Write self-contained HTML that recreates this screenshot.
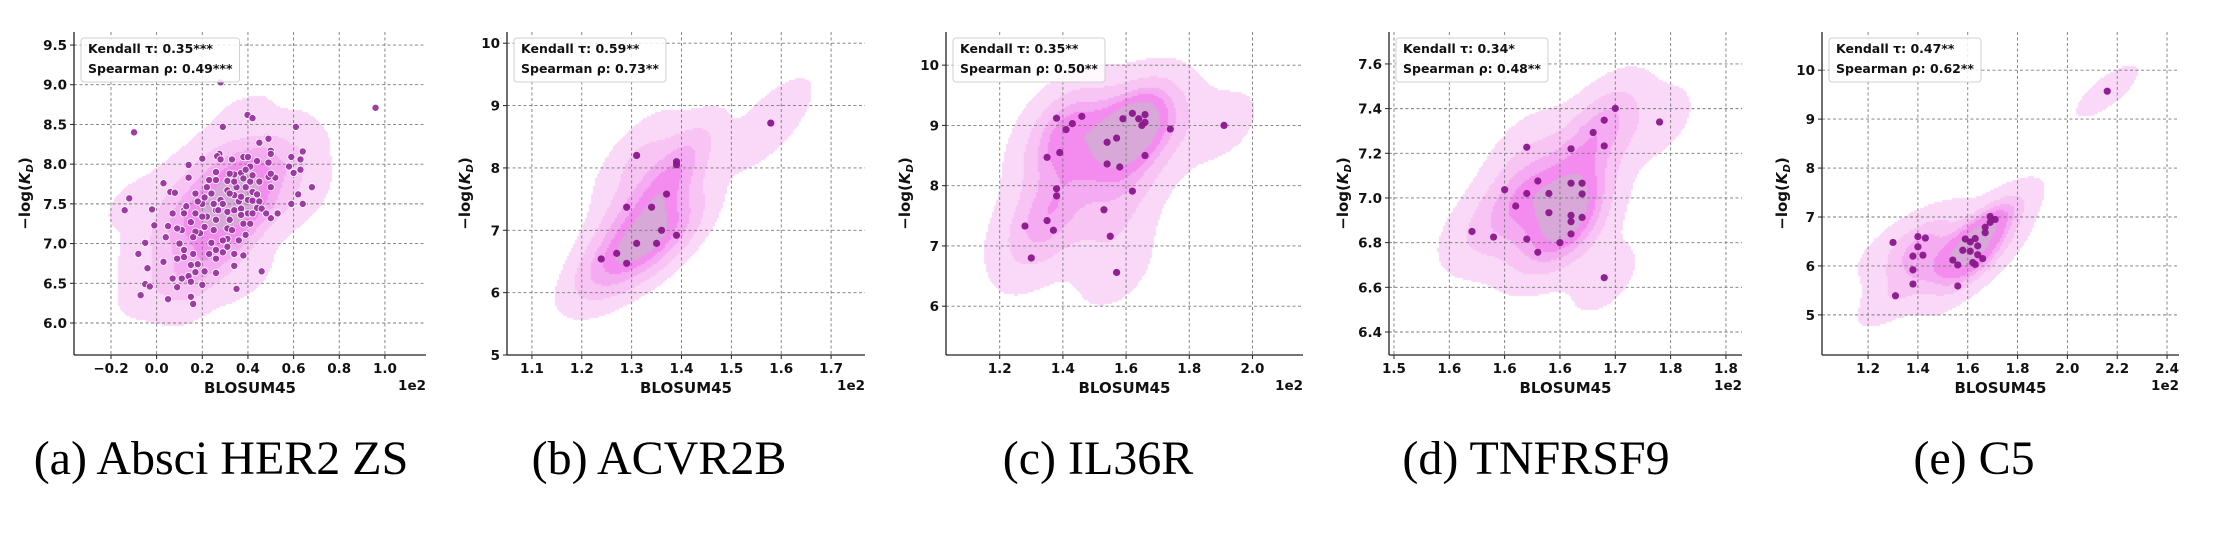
<!DOCTYPE html>
<html><head><meta charset="utf-8"><style>
html,body{margin:0;padding:0;background:#fff;}
#wrap{position:relative;width:2218px;height:538px;overflow:hidden;}
#kde{position:absolute;left:0;top:0;}
#chart{position:absolute;left:0;top:0;}
</style></head><body>
<div id="wrap">
<canvas id="kde" width="2218" height="538"></canvas>
<svg id="chart" width="2218" height="538" xmlns="http://www.w3.org/2000/svg"></svg>
</div>
<script>
// ---- data (BLOSUM45 in units of 1e2, -log(KD)) ----
const aX=[0.959,-0.099,0.28,0.398,0.42,0.29,0.61,0.49,0.45,0.64,0.59,0.63,0.50,0.50,0.14,0.20,0.275,0.265,0.28,0.33,0.38,0.40,0.44,0.41,0.49,0.58,0.60,0.63,0.14,0.03,0.06,0.08,-0.12,-0.14,-0.02,-0.01,0.68,0.62,0.59,0.64,0.53,0.50,0.50,0.52,0.49,0.50,0.23,0.26,0.31,0.34,0.37,0.39,0.41,0.32,0.26,0.31,0.35,0.39,0.34,0.36,0.28,0.24,0.20,0.17,0.18,0.26,0.31,0.34,0.37,0.40,0.42,0.45,0.44,0.46,0.48,0.40,0.42,0.37,0.32,0.26,0.22,0.20,0.17,0.12,0.12,0.15,0.21,0.25,0.31,0.33,0.38,0.41,0.39,0.36,0.31,0.29,0.24,0.26,0.29,0.34,0.26,0.31,0.19,0.17,0.16,0.11,0.09,0.05,0.04,0.07,0.10,0.12,0.16,0.12,0.09,0.03,0.18,0.15,0.17,0.21,0.26,0.34,0.38,0.46,0.07,0.11,0.14,0.15,0.20,0.09,0.35,-0.05,-0.03,-0.04,-0.08,-0.05,-0.07,0.05,0.15,0.16,0.23,0.25,0.21,0.22,0.29,0.42,0.44,0.45,0.37,0.27,0.32,0.34,0.38,0.42,0.13];
const aY=[8.71,8.40,9.03,8.62,8.58,8.47,8.47,8.32,8.27,8.16,8.09,8.06,8.17,8.13,7.99,8.07,8.13,8.10,8.06,8.06,8.09,8.09,8.04,7.97,8.02,7.97,7.89,7.93,7.83,7.76,7.65,7.64,7.57,7.42,7.43,7.23,7.71,7.62,7.50,7.50,7.38,7.32,7.71,7.83,7.84,7.88,7.80,7.80,7.79,7.87,7.89,7.93,7.78,7.88,7.90,7.67,7.71,7.71,7.61,7.53,7.55,7.63,7.50,7.63,7.53,7.42,7.40,7.42,7.44,7.55,7.54,7.53,7.45,7.44,7.38,7.38,7.38,7.36,7.30,7.30,7.34,7.34,7.38,7.42,7.38,7.27,7.21,7.17,7.19,7.17,7.25,7.25,7.11,7.04,7.06,7.04,7.01,6.92,6.89,6.87,6.81,6.96,7.13,7.15,7.08,7.17,7.19,7.22,7.08,7.38,7.00,6.92,6.87,6.83,6.81,6.77,6.74,6.73,6.64,6.65,6.63,6.72,6.85,6.65,6.56,6.56,6.59,6.52,6.48,6.45,6.43,6.49,6.46,6.69,6.87,7.01,6.35,6.30,6.33,6.24,6.87,7.50,7.58,7.71,7.50,7.65,7.62,7.78,7.59,7.42,7.63,7.78,7.82,7.86,7.47];
const bX=[1.239,1.27,1.29,1.29,1.31,1.31,1.34,1.35,1.36,1.37,1.39,1.39,1.39,1.579];
const bY=[6.54,6.63,6.47,7.37,8.20,6.79,7.37,6.79,7.00,7.58,8.10,8.05,6.92,8.72];
const cX=[1.28,1.30,1.35,1.35,1.37,1.38,1.38,1.38,1.39,1.41,1.43,1.46,1.53,1.54,1.54,1.55,1.57,1.57,1.58,1.59,1.62,1.62,1.64,1.65,1.66,1.66,1.66,1.74,1.91];
const cY=[7.33,6.80,8.47,7.42,7.26,9.12,7.95,7.83,8.55,8.93,9.03,9.15,7.60,8.72,8.36,7.16,8.79,6.56,8.31,9.11,9.20,7.91,9.11,9.00,9.18,9.05,8.50,8.94,9.00];
const dX=[1.5705,1.590,1.600,1.610,1.620,1.620,1.620,1.630,1.630,1.640,1.640,1.650,1.660,1.660,1.660,1.660,1.660,1.670,1.670,1.670,1.680,1.690,1.690,1.690,1.700,1.740];
const dY=[6.85,6.825,7.037,6.964,7.227,7.02,6.816,7.076,6.757,7.02,6.934,6.80,7.22,7.066,6.922,6.894,6.839,7.066,7.018,6.913,7.293,7.348,7.233,6.643,7.401,7.34];
const eX=[1.30,1.31,1.38,1.38,1.38,1.40,1.40,1.42,1.43,1.54,1.56,1.56,1.58,1.59,1.61,1.61,1.62,1.63,1.63,1.64,1.64,1.66,1.67,1.67,1.69,1.69,1.71,2.16];
const eY=[6.48,5.39,6.20,5.92,5.63,6.60,6.39,6.22,6.57,6.12,6.02,5.59,6.32,6.55,6.49,6.30,6.07,6.56,6.03,6.41,6.23,6.15,6.79,6.68,7.01,6.89,6.95,9.57];
// ---- ticks ----
const aXTicks=[-0.2,0.0,0.2,0.4,0.6,0.8,1.0];
const aXLabels=["\u22120.2","0.0","0.2","0.4","0.6","0.8","1.0"];
const aYTicks=[6.0,6.5,7.0,7.5,8.0,8.5,9.0,9.5];
const aYLabels=["6.0","6.5","7.0","7.5","8.0","8.5","9.0","9.5"];
const bXTicks=[1.1,1.2,1.3,1.4,1.5,1.6,1.7];
const bXLabels=["1.1","1.2","1.3","1.4","1.5","1.6","1.7"];
const bYTicks=[5,6,7,8,9,10];
const bYLabels=["5","6","7","8","9","10"];
const cXTicks=[1.2,1.4,1.6,1.8,2.0];
const cXLabels=["1.2","1.4","1.6","1.8","2.0"];
const cYTicks=[6,7,8,9,10];
const cYLabels=["6","7","8","9","10"];
const dXTicks=[1.50,1.55,1.60,1.65,1.70,1.75,1.80];
const dXLabels=["1.5","1.6","1.6","1.6","1.7","1.8","1.8"];
const dYTicks=[6.4,6.6,6.8,7.0,7.2,7.4,7.6];
const dYLabels=["6.4","6.6","6.8","7.0","7.2","7.4","7.6"];
const eXTicks=[1.2,1.4,1.6,1.8,2.0,2.2,2.4];
const eXLabels=["1.2","1.4","1.6","1.8","2.0","2.2","2.4"];
const eYTicks=[5,6,7,8,9,10];
const eYLabels=["5","6","7","8","9","10"];
const legendText={a:["Kendall \u03c4: 0.35***","Spearman \u03c1: 0.49***"],b:["Kendall \u03c4: 0.59**","Spearman \u03c1: 0.73**"],c:["Kendall \u03c4: 0.35**","Spearman \u03c1: 0.50**"],d:["Kendall \u03c4: 0.34*","Spearman \u03c1: 0.48**"],e:["Kendall \u03c4: 0.47**","Spearman \u03c1: 0.62**"]};
const captions={a:"(a) Absci HER2 ZS",b:"(b) ACVR2B",c:"(c) IL36R",d:"(d) TNFRSF9",e:"(e) C5"};

// ---- layout (pixels) ----
const panels=[
 {id:'a',xs:aX,ys:aY,xt:aXTicks,xl:aXLabels,yt:aYTicks,yl:aYLabels,L:74,R:426,T:32,B:355,xmin:-0.362,xmax:1.18,ymin:5.597,ymax:9.664,ylx:25,cap:221,pf:'#9a33a0',ps:'#ffffff',pw:0.8},
 {id:'b',xs:bX,ys:bY,xt:bXTicks,xl:bXLabels,yt:bYTicks,yl:bYLabels,L:507,R:865,T:32,B:355,xmin:1.05,xmax:1.768,ymin:5,ymax:10.18,ylx:465,cap:659,pf:'#8a168c',ps:'none',pw:0},
 {id:'c',xs:cX,ys:cY,xt:cXTicks,xl:cXLabels,yt:cYTicks,yl:cYLabels,L:946,R:1303,T:32,B:355,xmin:1.03,xmax:2.16,ymin:5.19,ymax:10.55,ylx:905,cap:1098,pf:'#8a168c',ps:'none',pw:0},
 {id:'d',xs:dX,ys:dY,xt:dXTicks,xl:dXLabels,yt:dYTicks,yl:dYLabels,L:1389,R:1742,T:32,B:355,xmin:1.4955,xmax:1.8145,ymin:6.297,ymax:7.743,ylx:1343,cap:1536,pf:'#8a168c',ps:'none',pw:0},
 {id:'e',xs:eX,ys:eY,xt:eXTicks,xl:eXLabels,yt:eYTicks,yl:eYLabels,L:1822,R:2179,T:32,B:355,xmin:1.015,xmax:2.448,ymin:4.18,ymax:10.78,ylx:1782,cap:1974,pf:'#8a168c',ps:'none',pw:0}
];
const bandColors=['#fad8f7','#f7c4f4','#f5abf1','#f38cee','#d7a8d8'];
const isoProps=[0.05,0.24,0.43,0.62,0.81];

const NS='http://www.w3.org/2000/svg';
const svg=document.getElementById('chart');
const ctx=document.getElementById('kde').getContext('2d');
function mk(tag,attrs,parent){const e=document.createElementNS(NS,tag);for(const k in attrs)e.setAttribute(k,attrs[k]);(parent||svg).appendChild(e);return e;}

function kdeFn(xs,ys){
  const n=xs.length;let mx=0,my=0;for(let i=0;i<n;i++){mx+=xs[i];my+=ys[i];}mx/=n;my/=n;
  let sxx=0,syy=0,sxy=0;for(let i=0;i<n;i++){const dx=xs[i]-mx,dy=ys[i]-my;sxx+=dx*dx;syy+=dy*dy;sxy+=dx*dy;}
  sxx/=(n-1);syy/=(n-1);sxy/=(n-1);
  const f2=Math.pow(n,-1/3);const a=sxx*f2,d=syy*f2,b=sxy*f2;const det=a*d-b*b;
  const ia=d/det,id=a/det,ib=-b/det;
  const fn=(x,y)=>{let s=0;for(let i=0;i<n;i++){const dx=x-xs[i],dy=y-ys[i];s+=Math.exp(-0.5*(ia*dx*dx+2*ib*dx*dy+id*dy*dy));}return s;};
  return {fn,sx:Math.sqrt(a),sy:Math.sqrt(d)};
}

panels.forEach(p=>{
  const sx=v=>p.L+(v-p.xmin)/(p.xmax-p.xmin)*(p.R-p.L);
  const sy=v=>p.B-(v-p.ymin)/(p.ymax-p.ymin)*(p.B-p.T);
  const g=mk('g',{});
  
  
  const k=kdeFn(p.xs,p.ys);
  let x0=Math.min(...p.xs)-3*k.sx,x1=Math.max(...p.xs)+3*k.sx,y0=Math.min(...p.ys)-3*k.sy,y1=Math.max(...p.ys)+3*k.sy;
  const N=140,vals=[];
  for(let i=0;i<N;i++)for(let j=0;j<N;j++)vals.push(k.fn(x0+(x1-x0)*i/(N-1),y0+(y1-y0)*j/(N-1)));
  vals.sort((u,v)=>u-v);const tot=vals.reduce((s,v)=>s+v,0);
  const levels=isoProps.map(q=>{let c=0;for(let i=0;i<vals.length;i++){c+=vals[i];if(c/tot>=q)return vals[i];}return vals[vals.length-1];});
  const step=2;
  for(let px=p.L;px<p.R;px+=step){for(let py=p.T;py<p.B;py+=step){
    const dx=p.xmin+(px+step/2-p.L)/(p.R-p.L)*(p.xmax-p.xmin);
    const dy=p.ymin+(p.B-(py+step/2))/(p.B-p.T)*(p.ymax-p.ymin);
    const v=k.fn(dx,dy);let band=-1;for(let l=0;l<levels.length;l++)if(v>=levels[l])band=l;
    if(band>=0){ctx.fillStyle=bandColors[band];ctx.fillRect(px,py,step,step);}
  }}
  p.xt.forEach((t,i)=>{
    const x=sx(t);
    const gl=mk('line',{x1:x,x2:x,y1:p.T,y2:p.B,stroke:'#7a7a7a','stroke-width':0.9,'stroke-dasharray':'3,2.5'},g);
    
    
    const tk=mk('line',{x1:x,x2:x,y1:p.B,y2:p.B+4,stroke:'#222','stroke-width':1},g);
    
    
    const tl=mk('text',{x:x,y:373,'text-anchor':'middle','font-family':'DejaVu Sans, Liberation Sans, sans-serif','font-weight':'bold','font-size':13.5,fill:'#111'},g);
    tl.textContent=p.xl[i];
    
    
  });
  p.yt.forEach((t,i)=>{
    const y=sy(t);
    const gl=mk('line',{x1:p.L,x2:p.R,y1:y,y2:y,stroke:'#7a7a7a','stroke-width':0.9,'stroke-dasharray':'3,2.5'},g);
    
    
    const tk=mk('line',{x1:p.L-4,x2:p.L,y1:y,y2:y,stroke:'#222','stroke-width':1},g);
    
    
    const tl=mk('text',{x:p.L-7,y:y+5,'text-anchor':'end','font-family':'DejaVu Sans, Liberation Sans, sans-serif','font-weight':'bold','font-size':13.5,fill:'#111'},g);
    tl.textContent=p.yl[i];
    
    
  });
  p.xs.forEach((xv,i)=>{
    const c=mk('circle',{cx:sx(xv),cy:sy(p.ys[i]),r:3.6,fill:p.pf,'fill-opacity':0.95,stroke:p.ps,'stroke-width':p.pw},g);
    
    
  });
  const sl=mk('line',{x1:p.L,x2:p.L,y1:p.T,y2:p.B,stroke:'#222','stroke-width':1.3},g);
  
  
  const sb=mk('line',{x1:p.L,x2:p.R,y1:p.B,y2:p.B,stroke:'#222','stroke-width':1.3},g);
  
  
  const xt=mk('text',{x:(p.L+p.R)/2,y:393,'text-anchor':'middle','font-family':'DejaVu Sans, Liberation Sans, sans-serif','font-weight':'bold','font-size':15,fill:'#111'},g);
  xt.textContent='BLOSUM45';
  
  
  const off=mk('text',{x:p.R,y:390,'text-anchor':'end','font-family':'DejaVu Sans, Liberation Sans, sans-serif','font-weight':'bold','font-size':13.5,fill:'#111'},g);
  off.textContent='1e2';
  
  
  const yt=mk('text',{x:0,y:0,'text-anchor':'middle','font-family':'DejaVu Sans, Liberation Sans, sans-serif','font-weight':'bold','font-size':15,fill:'#111',transform:'translate('+(p.ylx+5)+','+((p.T+p.B)/2)+') rotate(-90)'},g);
  yt.innerHTML='\u2212log(<tspan font-style="italic">K</tspan><tspan font-style="italic" font-size="10" dy="3">D</tspan><tspan dy="-3">)</tspan>';
  
  
  const lg=mk('g',{},g);
  
  
  const box=mk('rect',{x:p.L+7,y:38,width:10,height:44,rx:3,fill:'#ffffff','fill-opacity':0.85,stroke:'#d0d0d0','stroke-width':1},lg);
  
  
  let wmax=0;
  legendText[p.id].forEach((s,i)=>{
    const t=mk('text',{x:p.L+14,y:i?73:53,'font-family':'DejaVu Sans, Liberation Sans, sans-serif','font-weight':'bold','font-size':12.5,fill:'#111'},lg);
    t.textContent=s;
    
    
    wmax=Math.max(wmax,t.getComputedTextLength());
  });
  box.setAttribute('width',wmax+14);
  const cp=mk('text',{x:p.cap,y:474,'text-anchor':'middle','font-family':'Liberation Serif, serif','font-size':48,fill:'#000'},g);
  cp.textContent=captions[p.id];
  
  
});
</script>
</body></html>
